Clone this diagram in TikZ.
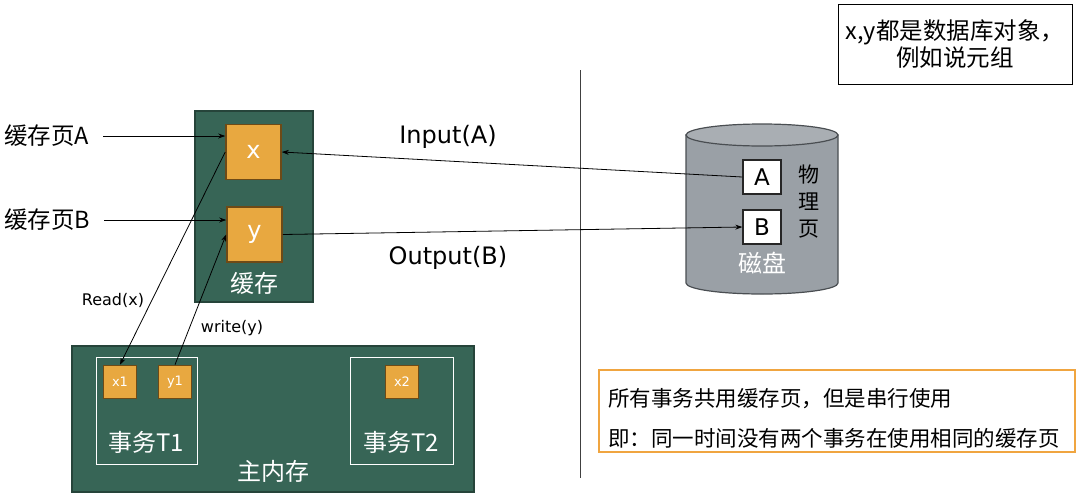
\documentclass[tikz,border=0pt]{standalone}
\usepackage{fontspec}
\setmainfont{DejaVu Sans}
\newfontfamily\cjk{Noto Sans CJK SC}
\usetikzlibrary{arrows.meta}
\definecolor{dgreen}{HTML}{376556}
\definecolor{dgreenb}{HTML}{26443A}
\definecolor{oboxf}{HTML}{E8A840}
\definecolor{oboxb}{HTML}{6E4A16}
\definecolor{diskf}{HTML}{9AA0A6}
\definecolor{diskb}{HTML}{4A4E52}
\definecolor{noteor}{HTML}{F0A540}
\begin{document}
\begin{tikzpicture}[x=1pt,y=-1pt,
  arr/.style={-{Stealth[length=7pt,width=5pt]},line width=0.8pt},
  gbox/.style={draw=dgreenb,fill=dgreen,line width=1.5pt},
  obig/.style={draw=oboxb,fill=oboxf,line width=1.6pt,minimum width=55pt,minimum height=55pt,inner sep=0pt,text=white,font=\fontsize{24}{26}\selectfont},
  osmall/.style={draw=oboxb,fill=oboxf,line width=1.6pt,minimum width=33pt,minimum height=33pt,inner sep=0pt,text=white,font=\fontsize{13}{15}\selectfont},
  pg/.style={draw=black!85,fill=white,line width=1.3pt,minimum width=38pt,minimum height=34pt,inner sep=0pt,font=\fontsize{23}{26}\selectfont},
  lbl/.style={font=\fontsize{23.5}{26}\selectfont\cjk,inner sep=0pt},
  wl/.style={font=\fontsize{24}{27}\selectfont\cjk,text=white,inner sep=0pt},
  tbox/.style={draw=white,line width=0.8pt}]
\useasboundingbox (0,0) rectangle (1081,496);
% divider
\draw[line width=0.9pt,black!75] (580,70) -- (580,478);
% cache
\node[gbox,minimum width=118pt,minimum height=191pt,inner sep=0pt] (cache) at (254,206.5) {};
\node[obig] (x) at (253.5,152) {x};
\node[obig] (y) at (254.5,234.5) {y};
\node[wl] (cachel) at (254,283) {缓存};
% labels left
\node[lbl,anchor=west] (lA) at (4,136) {缓存页A};
\node[lbl,anchor=west] (lB) at (4,220) {缓存页B};
\draw[arr] ([xshift=14pt]lA.east) -- (lA.east -| x.west);
\draw[arr] ([xshift=14pt]lB.east) -- (lB.east -| y.west);
% main memory
\node[gbox,minimum width=402pt,minimum height=146pt,inner sep=0pt] (mem) at (273,419) {};
\node[tbox,minimum width=101pt,minimum height=107pt,inner sep=0pt] (t1) at (146.5,410.5) {};
\node[tbox,minimum width=103pt,minimum height=107pt,inner sep=0pt] (t2) at (401.5,410.5) {};
\node[osmall] (x1) at (120,382) {x1};
\node[osmall] (y1) at (175,382) {y1};
\node[osmall] (x2) at (402,382) {x2};
\node[wl] (t1l) at (146,442) {事务T1};
\node[wl] (t2l) at (401,442) {事务T2};
\node[wl] (meml) at (273,471) {主内存};
% read / write
\draw[arr] (x.west) -- (x1.north);
\draw[arr] (y1.north) -- (y.west);
\node[font=\fontsize{16}{18}\selectfont,inner sep=0pt] (rl) at (113,300) {Read(x)};
\node[font=\fontsize{16}{18}\selectfont,inner sep=0pt] (wrl) at (232,328) {write(y)};
% disk
\path[fill=diskf,draw=diskb,line width=1.2pt] (686,135) -- (686,283) arc[start angle=180,end angle=360,x radius=76pt,y radius=11pt] -- (838,135) -- cycle;
\draw[fill=diskf!85!white,draw=diskb,line width=1.2pt] (762,135) ellipse [x radius=76pt,y radius=11pt];
\node[pg] (A) at (762,177) {A};
\node[pg] (B) at (762,227) {B};
\node[font=\fontsize{21}{27}\selectfont\cjk,align=center,inner sep=0pt] (phys) at (809,202) {物\\理\\页};
\node[wl] (diskl) at (762,263) {磁盘};
% IO
\draw[arr] (A.west) -- (x.east);
\draw[arr] (y.east) -- (B.west);
\node[font=\fontsize{24}{26}\selectfont,inner sep=0pt] (inl) at (448,137) {Input(A)};
\node[font=\fontsize{24}{26}\selectfont,inner sep=0pt] (outl) at (448,258) {Output(B)};
% note
\node[draw=black,line width=1pt,minimum width=234pt,minimum height=80pt,inner sep=0pt] (note) at (955,44) {};
\node[font=\fontsize{23.5}{27}\selectfont\cjk,align=center,inner sep=0pt] at (note.center) {x,y都是数据库对象，\\例如说元组};
% orange note
\node[draw=noteor,line width=1.6pt,minimum width=476pt,minimum height=82pt,inner sep=0pt] (rule) at (837,411) {};
\node[font=\fontsize{21.5}{40}\selectfont\cjk,align=left,anchor=west,inner sep=0pt] at (608,418) {所有事务共用缓存页，但是串行使用\\即：同一时间没有两个事务在使用相同的缓存页};
\end{tikzpicture}
\end{document}
